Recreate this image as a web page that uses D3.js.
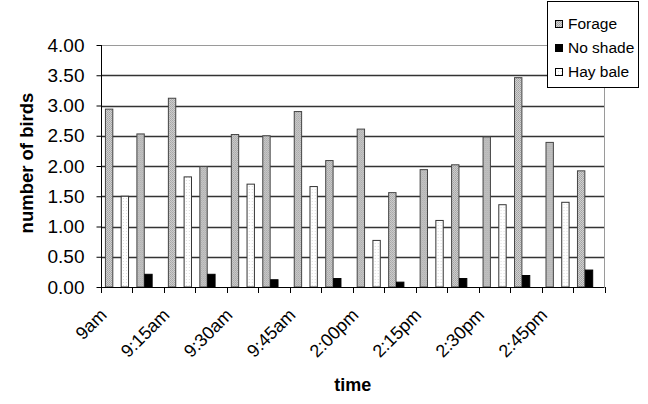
<!DOCTYPE html>
<html>
<head>
<meta charset="utf-8">
<script src="https://cdn.jsdelivr.net/npm/d3@7"></script>
<style>
  html, body { margin: 0; padding: 0; background: #fff; }
  svg { display: block; font-family: Arial, "Liberation Sans", sans-serif; }
</style>
</head>
<body>
<svg id="chart" width="648" height="404"></svg>
<script>
// ---- data ----
const categories = d3.range(16); // 16 time slots, every other one labelled
const tickLabels = ["9am", "9:15am", "9:30am", "9:45am", "2:00pm", "2:15pm", "2:30pm", "2:45pm"];
const seriesNames = ["Forage", "No shade", "Hay bale"];
const forage  = [2.94, 2.53, 3.12, 1.99, 2.52, 2.50, 2.90, 2.09, 2.61, 1.56, 1.94, 2.02, 2.48, 3.46, 2.39, 1.92];
const noShade = [0, 0.21, 0, 0.21, 0, 0.12, 0, 0.14, 0, 0.08, 0, 0.14, 0, 0.19, 0, 0.28];
const hayBale = [1.50, 0, 1.82, 0, 1.70, 0, 1.66, 0, 0.77, 0, 1.10, 0, 1.36, 0, 1.40, 0];
const yTicks = [0, 0.5, 1, 1.5, 2, 2.5, 3, 3.5, 4];

const seriesValues = [forage, noShade, hayBale];

const svg = d3.select("#chart");

// patterns
const defs = svg.append("defs");
const pf = defs.append("pattern").attr("id", "pForage").attr("patternUnits", "userSpaceOnUse")
  .attr("width", 2).attr("height", 2);
pf.append("rect").attr("width", 2).attr("height", 2).attr("fill", "#d2d2d2");
pf.append("rect").attr("width", 1).attr("height", 1).attr("fill", "#a0a0a0");
pf.append("rect").attr("x", 1).attr("y", 1).attr("width", 1).attr("height", 1).attr("fill", "#ababab");
const ph = defs.append("pattern").attr("id", "pHay").attr("patternUnits", "userSpaceOnUse")
  .attr("width", 3).attr("height", 3);
ph.append("rect").attr("width", 3).attr("height", 3).attr("fill", "#ffffff");
ph.append("rect").attr("width", 1).attr("height", 1).attr("fill", "#dcdcdc");

const fills = { "Forage": "url(#pForage)", "No shade": "#000", "Hay bale": "url(#pHay)" };
const strokes = { "Forage": "#444", "No shade": "#000", "Hay bale": "#333" };

const x0 = 101, x1 = 604.5, yBottom = 287, yTop = 45;

const x = d3.scaleBand().domain(categories).range([x0, x1]).paddingInner(0.25).paddingOuter(0.125);
const xs = d3.scaleBand().domain(seriesNames).range([0, x.bandwidth()]);
const y = d3.scaleLinear().domain([0, 4]).range([yBottom, yTop]);

// gridlines
svg.append("g").selectAll("line").data(yTicks.filter(d => d > 0 && d < 4)).join("line")
  .attr("x1", x0).attr("x2", x1)
  .attr("y1", d => Math.round(y(d)) + 0.5).attr("y2", d => Math.round(y(d)) + 0.5)
  .attr("stroke", "#333").attr("stroke-width", 1.4);

// plot border (top & right) light gray
svg.append("line").attr("x1", x0).attr("x2", x1).attr("y1", y(4) + 0.5).attr("y2", y(4) + 0.5)
  .attr("stroke", "#9a9a9a").attr("stroke-width", 1);
svg.append("line").attr("x1", x1).attr("x2", x1).attr("y1", y(4)).attr("y2", yBottom)
  .attr("stroke", "#9a9a9a").attr("stroke-width", 1);

// bars
const groups = svg.append("g").selectAll("g").data(categories).join("g")
  .attr("transform", d => `translate(${x(d)},0)`);
groups.selectAll("rect")
  .data(i => seriesNames.map((s, k) => ({ s, v: seriesValues[k][i] })).filter(o => o.v > 0))
  .join("rect")
  .attr("x", o => xs(o.s) + 0.5)
  .attr("width", xs.bandwidth() - 0.5)
  .attr("y", o => y(o.v))
  .attr("height", o => yBottom - y(o.v))
  .attr("fill", o => fills[o.s])
  .attr("stroke", o => strokes[o.s])
  .attr("stroke-width", 1);

// y axis
const yAxis = d3.axisLeft(y).tickValues(yTicks).tickFormat(d3.format(".2f")).tickSize(5).tickPadding(12);
const gy = svg.append("g").attr("transform", `translate(${x0 + 0.5},0)`).call(yAxis);
gy.select(".domain").attr("stroke", "#000").attr("d", `M0,${yTop}V${yBottom}`);
gy.selectAll(".tick line").attr("stroke", "#000");
gy.selectAll(".tick text").attr("font-size", 19).attr("fill", "#000")
  .attr("font-family", "Arial, 'Liberation Sans', sans-serif");

// x axis line and boundary ticks
const step = x.step();
const boundaries = d3.range(categories.length + 1).map(i => x0 + i * step);
svg.append("line").attr("x1", x0).attr("x2", x1).attr("y1", yBottom + 0.5).attr("y2", yBottom + 0.5)
  .attr("stroke", "#000");
svg.append("g").selectAll("line").data(boundaries).join("line")
  .attr("x1", d => Math.round(d) + 0.5).attr("x2", d => Math.round(d) + 0.5)
  .attr("y1", yBottom).attr("y2", yBottom + 6).attr("stroke", "#000");

// x labels (every other category)
svg.append("g").selectAll("text").data(tickLabels).join("text")
  .attr("transform", (d, i) => `translate(${x(categories[i * 2]) + x.bandwidth() / 2 - 18},${yBottom + 20}) rotate(-45)`)
  .attr("text-anchor", "end")
  .attr("dy", "0.71em")
  .attr("font-size", 18)
  .attr("fill", "#000")
  .text(d => d);

// axis titles
svg.append("text").attr("x", (x0 + x1) / 2).attr("y", 391).attr("text-anchor", "middle")
  .attr("font-size", 18).attr("font-weight", "bold").text("time");
svg.append("text").attr("transform", `translate(33,${(yTop + yBottom) / 2 - 3}) rotate(-90)`)
  .attr("text-anchor", "middle").attr("font-size", 18.5).attr("font-weight", "bold")
  .text("number of birds");

// legend
const lg = svg.append("g");
lg.append("rect").attr("x", 547.5).attr("y", 1.5).attr("width", 91).attr("height", 86)
  .attr("fill", "#fff").attr("stroke", "#000").attr("stroke-width", 1);
const li = lg.selectAll("g").data(seriesNames).join("g")
  .attr("transform", (d, i) => `translate(555,${20 + i * 24})`);
li.append("rect").attr("x", 0.5).attr("y", 0.5).attr("width", 7).attr("height", 7)
  .attr("fill", d => fills[d]).attr("stroke", "#000").attr("stroke-width", 1);
li.append("text").attr("x", 13).attr("y", 4).attr("dy", "0.35em")
  .attr("font-size", 15.5).attr("fill", "#000").text(d => d);
</script>
</body>
</html>
